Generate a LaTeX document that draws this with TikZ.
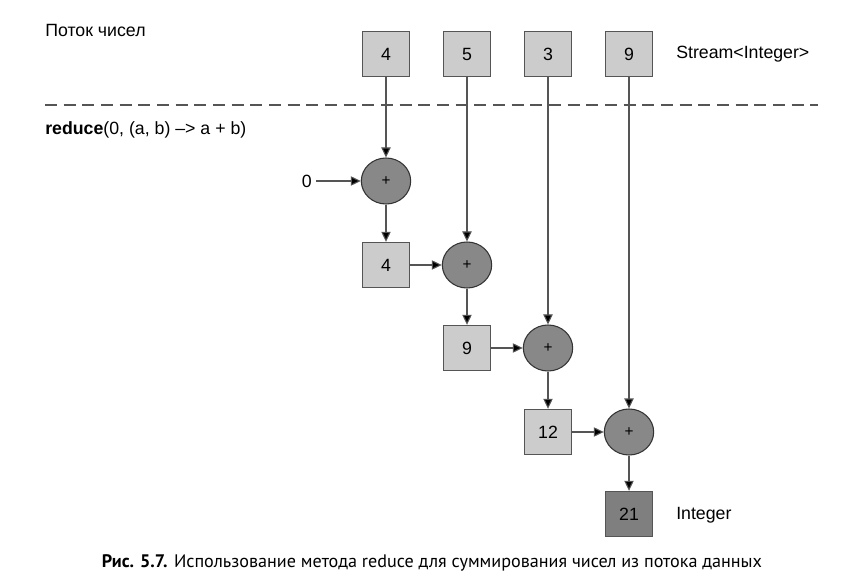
\documentclass[tikz,border=0pt]{standalone}
\usepackage{fontspec}
\setmainfont{Liberation Sans}
\newfontfamily\capfont{PT Sans}
\usetikzlibrary{arrows.meta,shapes.geometric}
\definecolor{boxfill}{HTML}{CCCCCC}
\definecolor{opfill}{HTML}{888888}
\definecolor{resfill}{HTML}{7F7F7F}
\definecolor{linegray}{HTML}{555555}
\tikzset{
  valbox/.style={draw=linegray, fill=boxfill, line width=0.8pt, minimum width=35pt, minimum height=34pt, inner sep=0pt, font=\fontsize{13.3}{16}\selectfont},
  resbox/.style={valbox, fill=resfill},
  opnode/.style={draw=black!80, fill=opfill, ellipse, line width=0.8pt, minimum width=37pt, minimum height=34.5pt, inner sep=0pt, font=\fontsize{11.5}{13}\selectfont},
  flow/.style={draw=linegray, line width=0.8pt, -{Triangle[length=7.5pt,width=7pt,fill=black]}},
  lbl/.style={font=\fontsize{13.3}{16}\selectfont, inner sep=0pt, anchor=west},
}
\begin{document}
\begin{tikzpicture}[x=0.75pt,y=-0.75pt]
\useasboundingbox (0,0) rectangle (849,584);
% top stream
\node[valbox] (s1) at (386,54) {4};
\node[valbox] (s2) at (467,54) {5};
\node[valbox] (s3) at (548,54) {3};
\node[valbox] (s4) at (629,54) {9};
\node[lbl] (stream) at (676,54) {Stream<Integer>};
\node[lbl] (title) at (45,30) {Поток чисел};
\coordinate (dl) at (45,105);
\coordinate (dr) at (818,105);
\draw[linegray, line width=0.8pt, dash pattern=on 9pt off 5pt] (dl) -- (dr);
\node[lbl] (red) at (45,130) {\textbf{reduce}(0, (a, b) –> a + b)};
% operations
\node[opnode] (p1) at (386,181) {+};
\node[valbox] (r1) at (386,265) {4};
\node[opnode] (p2) at (467,265) {+};
\node[valbox] (r2) at (467,348) {9};
\node[opnode] (p3) at (548,348) {+};
\node[valbox] (r3) at (548,432) {12};
\node[opnode] (p4) at (629,432) {+};
\node[resbox] (r4) at (629,514) {21};
\node[lbl] (int) at (676,515) {Integer};
\node[lbl, anchor=east, inner sep=3pt] (zero) at (316,181) {0};
% connectors
\draw[flow] (zero) -- (p1);
\draw[flow] (s1) -- (p1);
\draw[flow] (p1) -- (r1);
\draw[flow] (r1) -- (p2);
\draw[flow] (s2) -- (p2);
\draw[flow] (p2) -- (r2);
\draw[flow] (r2) -- (p3);
\draw[flow] (s3) -- (p3);
\draw[flow] (p3) -- (r3);
\draw[flow] (r3) -- (p4);
\draw[flow] (s4) -- (p4);
\draw[flow] (p4) -- (r4);
% caption
\node[font=\capfont\fontsize{13.6}{16}\selectfont, inner sep=0pt] (cap) at (432,563) {\textbf{Рис. 5.7.} Использование метода reduce для суммирования чисел из потока данных};
\end{tikzpicture}
\end{document}
